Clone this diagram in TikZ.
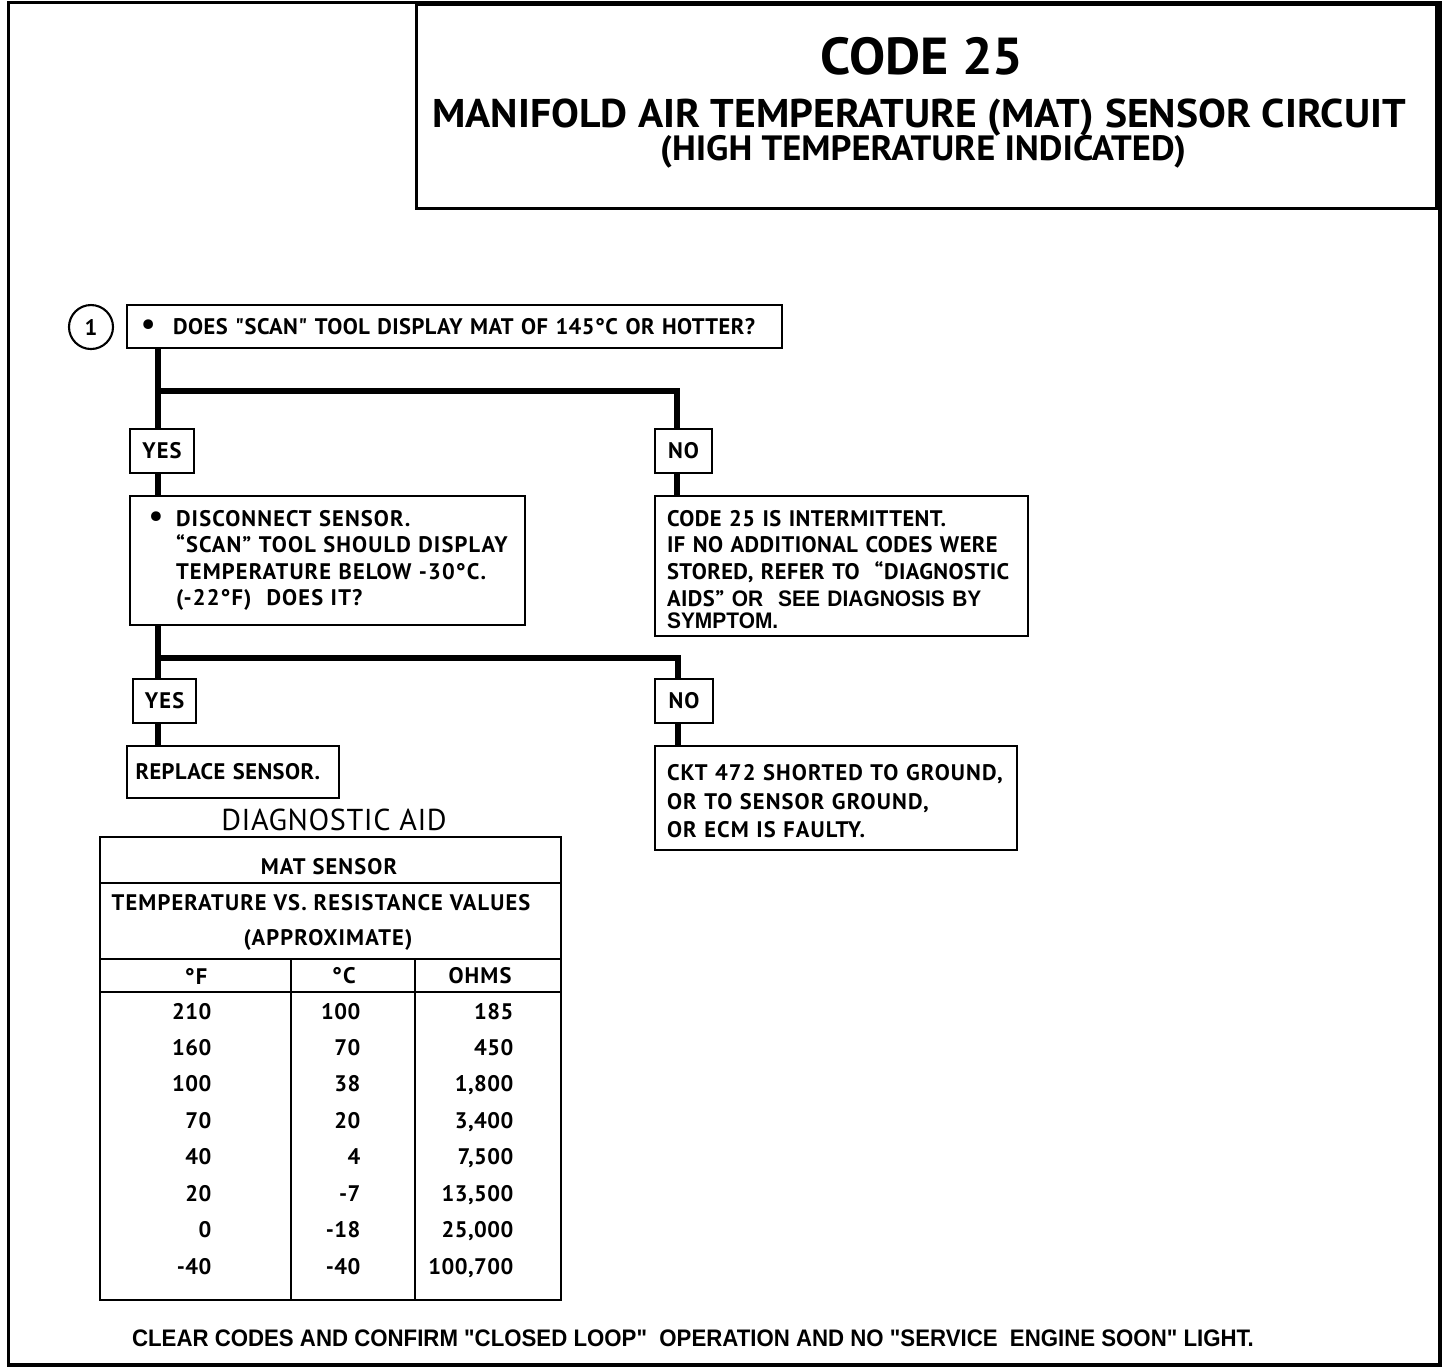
\documentclass[tikz,border=0pt]{standalone}
\usepackage{fontspec}
\setmainfont{PT Sans}[LetterSpace=5]
\newfontfamily\tightfont{PT Sans}[LetterSpace=2]
\newfontfamily\titlefont{PT Sans}[FakeStretch=1.04]
\newfontfamily\notefont{Liberation Sans}[FakeStretch=0.93]
\usetikzlibrary{positioning}

\newcommand{\boxfont}{\fontsize{6.4}{7.5}\selectfont\bfseries}
\newcommand{\cellfont}{\fontsize{6.4}{7.5}\selectfont\bfseries}
\newcommand{\bigdot}{{\fontsize{9}{9}\selectfont\textbullet}}
\newcommand{\topstrut}{\rule{0pt}{6.3pt}}

\tikzset{
  qbox/.style={draw, line width=0.6pt, anchor=north west, inner ysep=0pt, align=left, font=\boxfont},
  ansbox/.style={draw, line width=0.6pt, anchor=north west, inner sep=0pt, minimum height=0.44cm, font=\boxfont},
  flow/.style={line width=1.7pt},
  cell/.style={inner sep=0pt, font=\cellfont},
}

\begin{document}
\begin{tikzpicture}
\useasboundingbox (0,0) rectangle (14.56,-13.70);

% frame and title
\draw[line width=1.1pt] (0.085,-0.025) rectangle (14.40,-13.65);
\node[draw, line width=0.9pt, anchor=north west, minimum width=10.20cm, minimum height=2.04cm, inner sep=0pt] (title) at (4.15,-0.03) {};
\node[font=\titlefont\bfseries\fontsize{14.8}{16}\selectfont] (code) at (9.22,-0.56) {CODE 25};
\node[font=\titlefont\bfseries\fontsize{11.4}{13}\selectfont] (circuit) at (9.19,-1.18) {MANIFOLD AIR TEMPERATURE (MAT) SENSOR CIRCUIT};
\node[font=\titlefont\bfseries\fontsize{10}{12}\selectfont] (indicated) at (9.23,-1.52) {(HIGH TEMPERATURE INDICATED)};

% step 1
\node[draw, circle, line width=0.6pt, minimum size=0.44cm, inner sep=0pt, font=\fontsize{6.4}{7}\selectfont\bfseries] (step) at (0.91,-3.27) {1};
\node[qbox, minimum height=0.43cm, text width=6.27cm, inner xsep=0.14cm, font=\tightfont\boxfont] (q1) at (1.26,-3.04)
  {\makebox[0.32cm][l]{\bigdot}DOES "SCAN" TOOL DISPLAY MAT OF 145°C OR HOTTER?};

\node[ansbox, minimum width=0.64cm] (yes1) at (1.29,-4.28) {YES};
\node[ansbox, minimum width=0.57cm] (no1) at (6.54,-4.28) {NO};

\node[qbox, minimum height=1.29cm, text width=3.83cm, inner xsep=0.06cm] (q2) at (1.29,-4.95)
  {\makebox[0.40cm][c]{\bigdot}DISCONNECT SENSOR.\\
   \hspace*{0.40cm}“SCAN” TOOL SHOULD DISPLAY\\
   \hspace*{0.40cm}TEMPERATURE BELOW -30°C.\\
   \hspace*{0.40cm}(-22°F)\ \ DOES IT?};
\node[qbox, minimum height=1.40cm, text width=3.49cm, inner xsep=0.12cm, font=\tightfont\fontsize{6.4}{7.6}\selectfont\bfseries] (r1) at (6.54,-4.95)
  {\topstrut CODE 25 IS INTERMITTENT.\\
   IF NO ADDITIONAL CODES WERE\\
   STORED, REFER TO\ \ “DIAGNOSTIC\\
   AIDS”\ {\notefont OR\ \ SEE DIAGNOSIS BY}\\[-1.4pt]
   {\notefont SYMPTOM.}};

\node[ansbox, minimum width=0.63cm] (yes2) at (1.32,-6.78) {YES};
\node[ansbox, minimum width=0.58cm] (no2) at (6.54,-6.78) {NO};

\node[qbox, minimum height=0.52cm, text width=1.95cm, inner xsep=0.085cm, font=\tightfont\boxfont] (replace) at (1.26,-7.45) {REPLACE SENSOR.};
\node[qbox, minimum height=1.04cm, text width=3.38cm, inner xsep=0.12cm, font=\fontsize{6.4}{8.1}\selectfont\bfseries] (r2) at (6.54,-7.45)
  {\topstrut CKT 472 SHORTED TO GROUND,\\
   OR TO SENSOR GROUND,\\
   OR ECM IS FAULTY.};

% connectors
\coordinate (j1) at (1.58,-3.91);
\coordinate (j2) at (1.58,-6.58);
\draw[flow] (q1.south -| j1) -- (j1 |- yes1.north);
\draw[flow] (j1) -| ([xshift=-0.07cm]no1.north);
\draw[flow] (yes1.south -| j1) -- (j1 |- q2.north);
\draw[flow] ([xshift=-0.07cm]no1.south) -- ([xshift=-0.07cm]no1.south |- r1.north);
\draw[flow] (q2.south -| j2) -- (j2 |- yes2.north);
\draw[flow] (j2) -| ([xshift=-0.06cm]no2.north);
\draw[flow] (yes2.south -| j2) -- (j2 |- replace.north);
\draw[flow] ([xshift=-0.06cm]no2.south) -- ([xshift=-0.06cm]no2.south |- r2.north);

% diagnostic aid table
\node[font=\tightfont\fontsize{8.6}{10}\selectfont] (aid) at (3.34,-8.20) {DIAGNOSTIC AID};
\draw[line width=0.6pt] (1.00,-8.37) rectangle (5.61,-13.00);
\draw[line width=0.6pt] (1.00,-8.83) -- (5.61,-8.83);
\draw[line width=0.6pt] (1.00,-9.59) -- (5.61,-9.59);
\draw[line width=0.6pt] (1.00,-9.92) -- (5.61,-9.92);
\draw[line width=0.6pt] (2.91,-9.59) -- (2.91,-13.00);
\draw[line width=0.6pt] (4.15,-9.59) -- (4.15,-13.00);
\node[cell] (mat) at (3.29,-8.67) {MAT SENSOR};
\node[cell] (vs) at (3.21,-9.03) {TEMPERATURE VS. RESISTANCE VALUES};
\node[cell] (approx) at (3.28,-9.40) {(APPROXIMATE)};
\node[cell] (degf) at (1.96,-9.76) {°F};
\node[cell] (degc) at (3.44,-9.76) {°C};
\node[cell] (ohms) at (4.80,-9.76) {OHMS};
\foreach \f/\c/\o [count=\i from 0] in {210/100/185, 160/70/450, 100/38/{1,800}, 70/20/{3,400},
    40/4/{7,500}, 20/-7/{13,500}, 0/-18/{25,000}, -40/-40/{100,700}} {
  \node[cell, anchor=base east, font=\tightfont\cellfont] (f\i) at (2.12,{-10.19-0.3643*\i}) {\f};
  \node[cell, anchor=base east, font=\tightfont\cellfont] (c\i) at (3.61,{-10.19-0.3643*\i}) {\c};
  \node[cell, anchor=base east, font=\tightfont\cellfont] (o\i) at (5.14,{-10.19-0.3643*\i}) {\o};
}

% footer
\node[font=\notefont\bfseries\fontsize{6.8}{7}\selectfont] (clear) at (6.93,-13.38)
  {CLEAR CODES AND CONFIRM "CLOSED LOOP"\ \ OPERATION AND NO "SERVICE\ \ ENGINE SOON" LIGHT.};
\end{tikzpicture}
\end{document}
